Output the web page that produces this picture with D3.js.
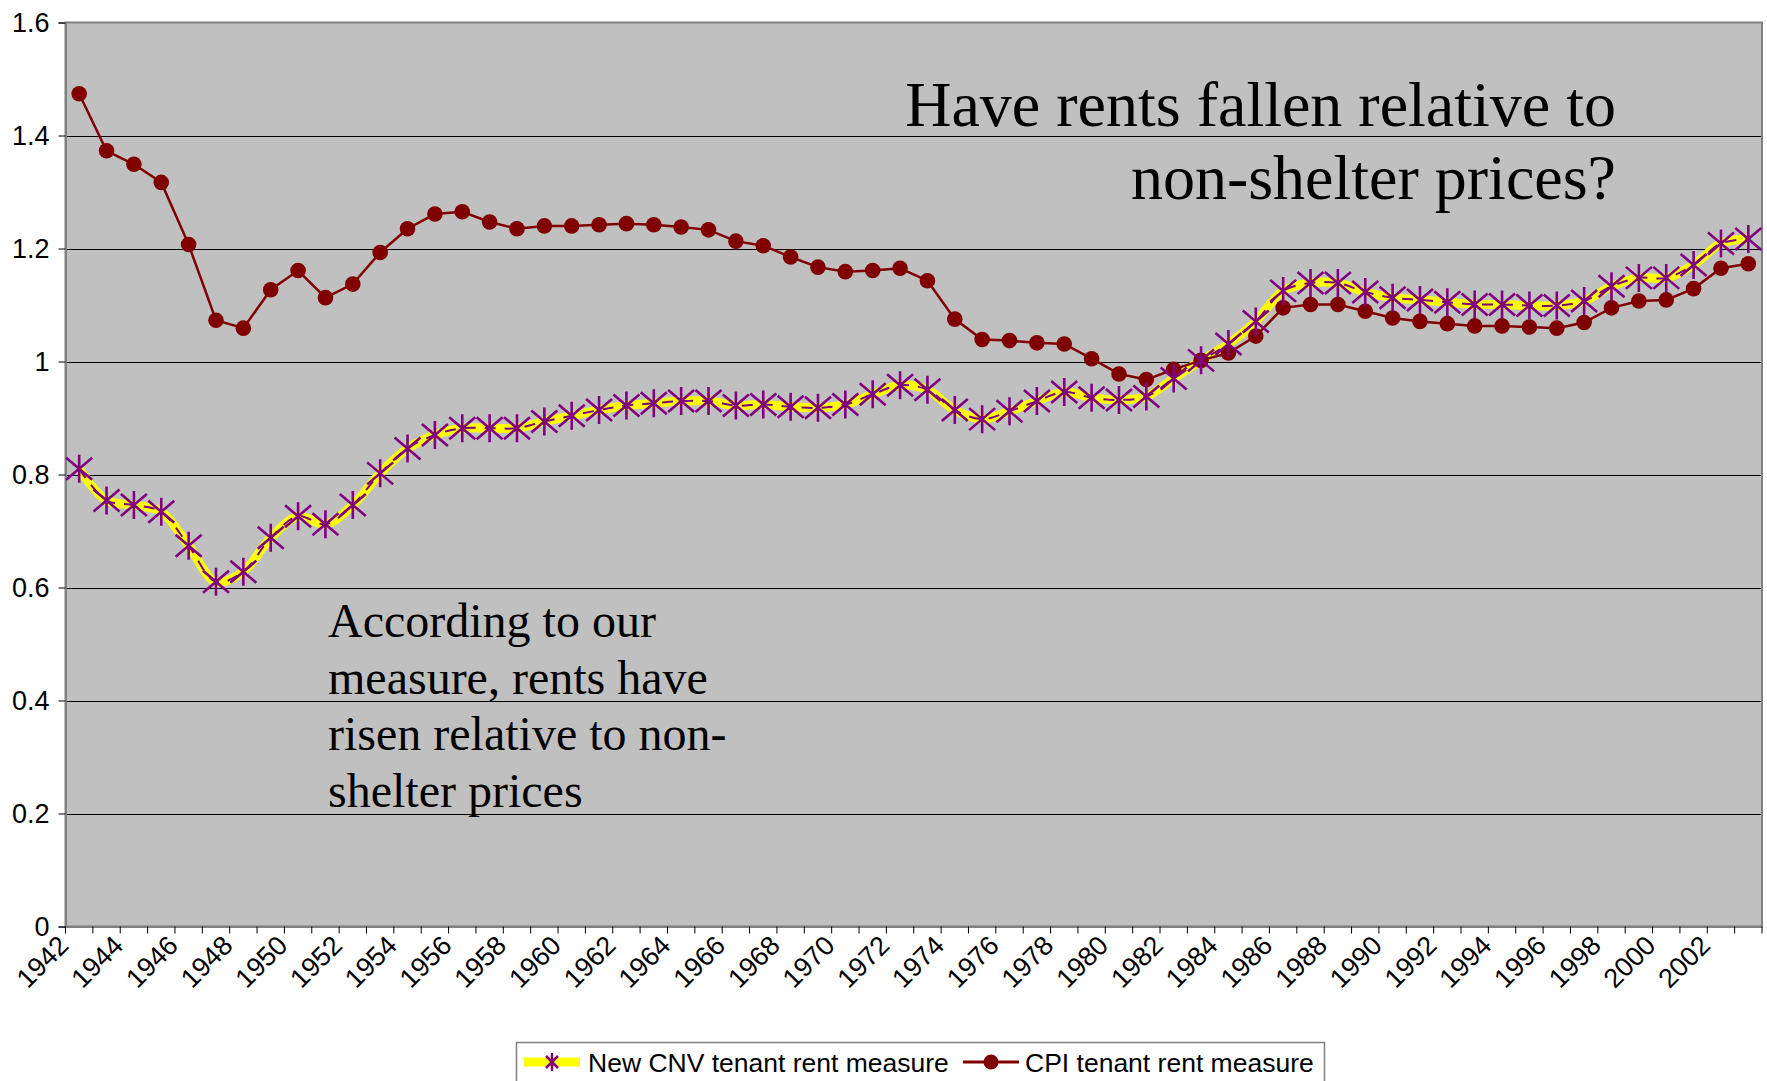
<!DOCTYPE html>
<html>
<head>
<meta charset="utf-8">
<script src="https://cdn.jsdelivr.net/npm/d3@7"></script>
<style>
  body { margin: 0; background: #fff; }
  svg { display: block; }
</style>
</head>
<body>
<script>
// years on the category axis
var years = d3.range(1942, 2004);

// New CNV tenant rent measure
var cnvValues = [
  0.810, 0.754, 0.746, 0.734, 0.674, 0.610, 0.628, 0.688, 0.726, 0.712,
  0.746, 0.802, 0.846, 0.870, 0.882, 0.882, 0.882, 0.894, 0.904, 0.914,
  0.922, 0.926, 0.930, 0.930, 0.922, 0.924, 0.920, 0.918, 0.924, 0.942,
  0.958, 0.950, 0.914, 0.898, 0.912, 0.930, 0.946, 0.936, 0.932, 0.938,
  0.970, 1.002, 1.031, 1.071, 1.125, 1.139, 1.139, 1.123, 1.113, 1.109,
  1.105, 1.101, 1.101, 1.099, 1.099, 1.107, 1.133, 1.148, 1.148, 1.171,
  1.209, 1.217
];

// CPI tenant rent measure
var cpiValues = [
  1.474, 1.373, 1.349, 1.317, 1.207, 1.073, 1.059, 1.127, 1.161, 1.113,
  1.137, 1.193, 1.235, 1.261, 1.265, 1.247, 1.235, 1.240, 1.240, 1.242,
  1.244, 1.242, 1.238, 1.233, 1.213, 1.205, 1.185, 1.167, 1.159, 1.161,
  1.165, 1.143, 1.075, 1.039, 1.037, 1.033, 1.031, 1.005, 0.978, 0.968,
  0.986, 1.002, 1.015, 1.045, 1.095, 1.101, 1.101, 1.089, 1.077, 1.071,
  1.067, 1.063, 1.063, 1.061, 1.059, 1.069, 1.095, 1.107, 1.109, 1.129,
  1.165, 1.173
];

var yTicks = [0, 0.2, 0.4, 0.6, 0.8, 1, 1.2, 1.4, 1.6];
var xLabelYears = years.filter(function(y) { return y % 2 === 0; });

var titleLines = ["Have rents fallen relative to", "non-shelter prices?"];
var noteLines = ["According to our", "measure, rents have", "risen relative to non-", "shelter prices"];
var seriesNames = ["New CNV tenant rent measure", "CPI tenant rent measure"];

var width = 1767, height = 1081;
var plot = { left: 65.5, right: 1762, top: 22.5, bottom: 926.5 };
var axisFont = "Arial, 'Liberation Sans', sans-serif";
var serifFont = "'Times New Roman', 'Liberation Serif', serif";

var svg = d3.select("body").append("svg")
  .attr("width", width)
  .attr("height", height);

var x = d3.scaleBand().domain(years).range([plot.left, plot.right]).padding(0);
var y = d3.scaleLinear().domain([0, 1.6]).range([plot.bottom, plot.top]);
var cx = function(yr) { return x(yr) + x.bandwidth() / 2; };

// plot background
svg.append("rect")
  .attr("x", plot.left).attr("y", plot.top)
  .attr("width", plot.right - plot.left).attr("height", plot.bottom - plot.top)
  .attr("fill", "#c0c0c0");

// gridlines
svg.append("g").selectAll("line")
  .data(yTicks.filter(function(t) { return t > 0 && t < 1.6; }))
  .enter().append("line")
  .attr("x1", plot.left).attr("x2", plot.right)
  .attr("y1", function(d) { return Math.round(y(d)) + 0.5; })
  .attr("y2", function(d) { return Math.round(y(d)) + 0.5; })
  .attr("stroke", "#000").attr("stroke-width", 1.2);

// plot border
svg.append("rect")
  .attr("x", plot.left).attr("y", plot.top)
  .attr("width", plot.right - plot.left).attr("height", plot.bottom - plot.top)
  .attr("fill", "none").attr("stroke", "#808080").attr("stroke-width", 2);

// y axis
var yAxis = d3.axisLeft(y).tickValues(yTicks).tickSize(7).tickPadding(9)
  .tickFormat(function(d) { return d3.format("")(+d.toFixed(1)); });
var gy = svg.append("g").attr("transform", "translate(" + plot.left + ",0)").call(yAxis);
gy.select(".domain").attr("stroke", "#808080").attr("stroke-width", 2);
gy.selectAll(".tick line").attr("stroke", "#000");
gy.selectAll("text").attr("font-family", axisFont)
  .attr("font-size", 27).attr("fill", "#000");

// x axis ticks (between categories)
var xAxis = d3.axisBottom(x).tickValues([]).tickSizeOuter(0);
var gx = svg.append("g").attr("transform", "translate(0," + plot.bottom + ")").call(xAxis);
gx.select(".domain").attr("stroke", "#808080").attr("stroke-width", 2);
gx.selectAll("line.cat").data(years.concat([null])).enter().append("line")
  .attr("class", "cat")
  .attr("x1", function(d) { return d === null ? plot.right : x(d); })
  .attr("x2", function(d) { return d === null ? plot.right : x(d); })
  .attr("y1", 0).attr("y2", 7)
  .attr("stroke", "#000");

svg.append("g").selectAll("text")
  .data(xLabelYears)
  .enter().append("text")
  .attr("transform", function(d) { return "translate(" + (cx(d) - 9) + ",947) rotate(-45)"; })
  .attr("text-anchor", "end")
  .attr("font-family", axisFont)
  .attr("font-size", 27)
  .text(function(d) { return d; });

// CNV series: thick yellow smoothed line, purple dashes, asterisk markers
var smooth = d3.line()
  .x(function(d, i) { return cx(years[i]); })
  .y(function(d) { return y(d); })
  .curve(d3.curveCatmullRom);

svg.append("path").datum(cnvValues)
  .attr("d", smooth)
  .attr("fill", "none").attr("stroke", "#ffff00").attr("stroke-width", 9)
  .attr("stroke-linejoin", "round");
svg.append("path").datum(cnvValues)
  .attr("d", smooth)
  .attr("fill", "none").attr("stroke", "#800080").attr("stroke-width", 2)
  .attr("stroke-dasharray", "11,9");

var starPath = "M0,-14V14M-13,-11L13,11M-13,11L13,-11";

// CPI series: straight dark red line with dots
var straight = d3.line()
  .x(function(d, i) { return cx(years[i]); })
  .y(function(d) { return y(d); });

svg.append("path").datum(cpiValues)
  .attr("d", straight)
  .attr("fill", "none").attr("stroke", "#800000").attr("stroke-width", 2.5);

svg.append("g").selectAll("circle")
  .data(cpiValues)
  .enter().append("circle")
  .attr("cx", function(d, i) { return cx(years[i]); })
  .attr("cy", function(d) { return y(d); })
  .attr("r", 7.8)
  .attr("fill", "#800000");

svg.append("g").selectAll("path")
  .data(cnvValues)
  .enter().append("path")
  .attr("d", starPath)
  .attr("transform", function(d, i) { return "translate(" + cx(years[i]) + "," + y(d) + ")"; })
  .attr("fill", "none").attr("stroke", "#800080").attr("stroke-width", 2.6);

// annotations
svg.append("g").selectAll("text")
  .data(titleLines)
  .enter().append("text")
  .attr("x", 1616)
  .attr("y", function(d, i) { return 126 + i * 73; })
  .attr("text-anchor", "end")
  .attr("font-family", serifFont)
  .attr("font-size", 64)
  .text(function(d) { return d; });

svg.append("g").selectAll("text")
  .data(noteLines)
  .enter().append("text")
  .attr("x", 328)
  .attr("y", function(d, i) { return 637 + i * 56.5; })
  .attr("font-family", serifFont)
  .attr("font-size", 48)
  .text(function(d) { return d; });

// legend
var legend = svg.append("g");
legend.append("rect")
  .attr("x", 516.5).attr("y", 1042.5).attr("width", 808).attr("height", 50)
  .attr("fill", "#fff").attr("stroke", "#808080").attr("stroke-width", 1.5);

var lg1 = legend.append("g").attr("transform", "translate(524,1062)");
lg1.append("line").attr("x1", 0).attr("x2", 56).attr("y1", 0).attr("y2", 0)
  .attr("stroke", "#ffff00").attr("stroke-width", 9);
lg1.append("path").attr("d", "M0,-9V9M-6,-6L6,6M-6,6L6,-6")
  .attr("transform", "translate(28,0)")
  .attr("fill", "none").attr("stroke", "#800080").attr("stroke-width", 2.5);
lg1.append("text").attr("x", 64).attr("y", 10)
  .attr("font-family", axisFont).attr("font-size", 26.5)
  .text(seriesNames[0]);

var lg2 = legend.append("g").attr("transform", "translate(963,1062)");
lg2.append("line").attr("x1", 0).attr("x2", 56).attr("y1", 0).attr("y2", 0)
  .attr("stroke", "#800000").attr("stroke-width", 3);
lg2.append("circle").attr("cx", 28).attr("cy", 0).attr("r", 7.5).attr("fill", "#800000");
lg2.append("text").attr("x", 62).attr("y", 10)
  .attr("font-family", axisFont).attr("font-size", 26.5)
  .text(seriesNames[1]);
</script>
</body>
</html>
